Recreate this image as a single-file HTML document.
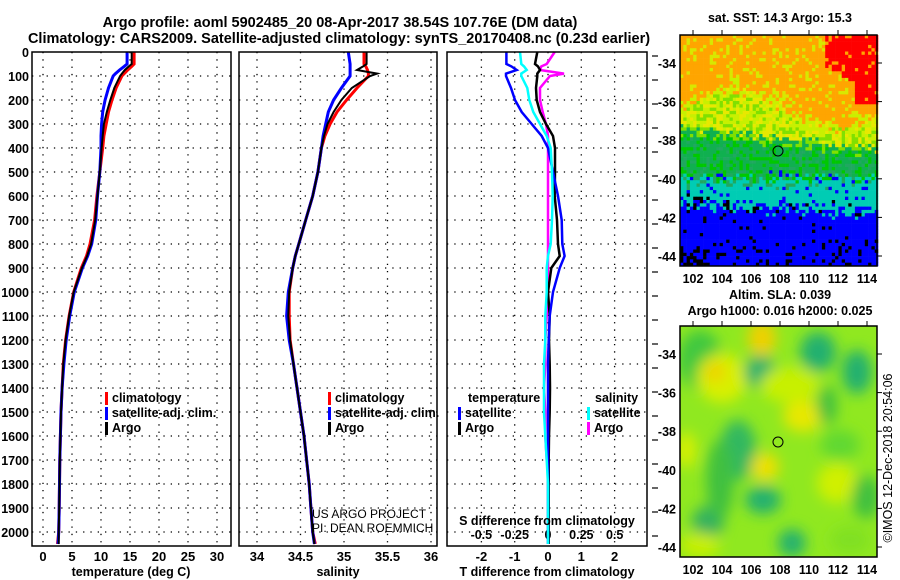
<!DOCTYPE html>
<html><head><meta charset="utf-8"><style>
html,body{margin:0;padding:0;background:#fff;}
svg{display:block;font-family:"Liberation Sans",sans-serif;}
.b{font-weight:bold;}
</style></head><body>
<svg id="fig" width="900" height="580" viewBox="0 0 900 580">
<text class="b" x="340" y="27" font-size="14.5" text-anchor="middle">Argo profile: aoml 5902485_20 08-Apr-2017 38.54S 107.76E (DM data)</text>
<text class="b" x="339" y="43" font-size="14.5" text-anchor="middle">Climatology: CARS2009. Satellite-adjusted climatology: synTS_20170408.nc (0.23d earlier)</text>
<g id="panels"></g>
<g id="maps"></g>
</svg>
<script>
// ---------- data ----------
const depths = [0,50,60,75,90,100,150,200,250,300,350,400,500,600,700,800,850,900,1000,1100,1200,1300,1400,1500,1600,1700,1800,1900,2000,2050];
const tempClim = [15.7,15.7,15.3,14.6,14.0,13.6,12.6,11.9,11.3,10.9,10.5,10.3,9.8,9.3,8.9,8.1,7.5,6.6,5.3,4.5,3.9,3.5,3.3,3.1,3.0,2.9,2.85,2.8,2.7,2.5];
const tempSat = [14.5,14.5,14.0,13.2,12.5,12.1,11.3,10.7,10.3,10.1,10.0,10.0,9.8,9.4,9.1,8.4,7.7,6.8,5.4,4.6,4.0,3.6,3.3,3.1,3.0,2.9,2.85,2.8,2.7,2.6];
const tempArgo = [15.3,15.3,14.8,14.1,13.6,13.3,12.3,11.6,11.0,10.5,10.3,10.1,9.8,9.4,9.0,8.3,7.6,6.7,5.3,4.5,3.9,3.5,3.3,3.1,3.0,2.9,2.85,2.8,2.7,2.7];
const salClim = [35.23,35.23,35.25,35.27,35.28,35.28,35.15,35.03,34.92,34.84,34.78,34.74,34.70,34.64,34.56,34.48,34.44,34.41,34.37,34.37,34.38,34.42,34.46,34.50,34.54,34.57,34.60,34.62,34.64,34.67];
const salSat = [35.05,35.07,35.07,35.07,35.07,35.07,34.97,34.88,34.82,34.79,34.76,34.74,34.70,34.64,34.56,34.48,34.44,34.41,34.36,34.34,34.37,34.42,34.46,34.50,34.54,34.57,34.60,34.62,34.64,34.66];
const salArgo = [35.26,35.26,35.22,35.15,35.38,35.30,35.09,34.97,34.88,34.81,34.77,34.74,34.70,34.64,34.56,34.48,34.44,34.41,34.37,34.36,34.38,34.42,34.46,34.50,34.54,34.57,34.60,34.62,34.64,34.66];
const dTSat = [-1.25,-1.25,-1.1,-0.94,-1.26,-1.26,-1.11,-0.99,-0.79,-0.49,-0.19,0,0.15,0.3,0.41,0.43,0.5,0.35,0.15,0.05,0.02,0,0,0,0,0,0,0,0,0];
const dTArgo = [-0.32,-0.39,-0.3,-0.24,-0.32,-0.32,-0.36,-0.34,-0.24,-0.06,0.15,0.21,0.21,0.2,0.27,0.3,0.35,0.1,0,0.05,0.03,0.05,0.06,0.05,0.03,0.02,0.02,0.02,0.02,0.02];
const dSSat = [-0.21,-0.2,-0.18,-0.16,-0.2,-0.2,-0.155,-0.14,-0.11,-0.06,-0.01,0.02,0.03,0.035,0.03,0.02,0,-0.01,-0.01,-0.02,-0.02,-0.03,-0.03,-0.03,-0.02,-0.01,0,0,0,0];
const dSArgo = [0.05,-0.01,-0.05,-0.06,0.12,0.015,-0.06,-0.06,-0.04,-0.015,0,0,0,0,0,0,0,0,0,-0.01,-0.02,-0.02,-0.03,-0.02,-0.02,-0.01,0,0,0,0];
const depthTicks = [0,100,200,300,400,500,600,700,800,900,1000,1100,1200,1300,1400,1500,1600,1700,1800,1900,2000];
const tempTicks = [0,5,10,15,20,25,30];
const salTicks = [34,34.5,35,35.5,36];
const dTTicks = [-2,-1,0,1,2];
const dSTicks = [-0.5,-0.25,0,0.25,0.5];
const lonTicks = [102,104,106,108,110,112,114];
const latTicks = [-34,-36,-38,-40,-42,-44];

const NS='http://www.w3.org/2000/svg';
const P=document.getElementById('panels');
function mk(tag,attrs,parent){const e=document.createElementNS(NS,tag);for(const k in attrs)e.setAttribute(k,attrs[k]);(parent||P).appendChild(e);return e;}
function txt(x,y,s,size,anchor,bold,parent){const t=mk('text',{x:x,y:y,'font-size':size,'text-anchor':anchor||'middle'},parent);if(bold)t.setAttribute('font-weight','bold');t.textContent=s;return t;}

const yTop=52, yBot=546;
const yD=d=>yTop+0.24*d;
const xT=v=>43+5.8*v;
const xS=v=>257+87*(v-34);
const xDT=v=>548+33.3*v;
const xDS=v=>548+133.3*v;

function panel(x0,x1,name){
  const g=mk('g',{});
  
  
  depthTicks.forEach(d=>{if(d>0){const l=mk('line',{x1:x0,x2:x1,y1:yD(d),y2:yD(d),stroke:'#000','stroke-width':1.3,'stroke-dasharray':'1.3 6'},g);
    }
  });
  return g;
}
function vgrid(g,ticks,fx,lab,ly,size){
  ticks.forEach((t,i)=>{const x=fx(t);
    const l=mk('line',{x1:x,x2:x,y1:yTop,y2:yBot,stroke:'#000','stroke-width':1.3,'stroke-dasharray':'1.3 6'},g);
    
    if(lab){const t2=txt(x,ly,lab[i],size||13,'middle',true,g);}
  });
}
function line(g,xs,fx,color,w,name,n){
  const pts=[];const m=n||xs.length;
  for(let i=0;i<m;i++)pts.push(fx(xs[i]).toFixed(1)+','+yD(depths[i]).toFixed(1));
  const p=mk('polyline',{points:pts.join(' '),fill:'none',stroke:color,'stroke-width':w,'stroke-linejoin':'miter'},g);
  
}
function frame(g,x0,x1){const r=mk('rect',{x:x0,y:yTop,width:x1-x0,height:yBot-yTop,fill:'none',stroke:'#000','stroke-width':1.5},g);
  }
function legend(g,x,y,items){items.forEach((it,i)=>{
  const r=mk('rect',{x:x,y:y+i*15-10,width:3,height:13,fill:it[0]},g);
  
  const t=txt(x+7,y+i*15,it[1],12.5,'start',true,g);
  
});}

// depth labels
depthTicks.forEach(d=>{const t=txt(29,yD(d)+5,String(d),12.5,'end',true);
  });

// panel 1 temperature
const g1=panel(32,231,'temperature-panel');
vgrid(g1,tempTicks,xT,tempTicks.map(String),561);
line(g1,tempClim,xT,'#ff0000',3,'climatology-temperature-line');
line(g1,tempSat,xT,'#0000ff',3,'satellite-temperature-line');
line(g1,tempArgo,xT,'#000',2,'argo-temperature-line');
frame(g1,32,231);
legend(g1,105,402,[['#ff0000','climatology'],['#0000ff','satellite-adj. clim.'],['#000','Argo']]);
let t=txt(131,576,'temperature (deg C)',12.5,'middle',true);

// panel 2 salinity
const g2=panel(239,437,'salinity-panel');
vgrid(g2,salTicks,xS,['34','34.5','35','35.5','36'],561);
line(g2,salClim,xS,'#ff0000',3,'climatology-salinity-line');
line(g2,salSat,xS,'#0000ff',3,'satellite-salinity-line');
line(g2,salArgo,xS,'#000',2,'argo-salinity-line');
frame(g2,239,437);
legend(g2,328,402,[['#ff0000','climatology'],['#0000ff','satellite-adj. clim.'],['#000','Argo']]);
t=txt(312,518,'US ARGO PROJECT',12,'start',false,g2);
t=txt(312,532,'PI: DEAN ROEMMICH',12,'start',false,g2);
t=txt(338,576,'salinity',12.5,'middle',true);

// panel 3 differences
const g3=panel(447,647,'difference-panel');
vgrid(g3,dTTicks,xDT,['-2','-1','0','1','2'],561);
dSTicks.forEach((v,i)=>{const tt=txt(xDS(v),539,['-0.5','-0.25','0','0.25','0.5'][i],12.5,'middle',true,g3);});
depthTicks.forEach(d=>{const l=mk('line',{x1:652,x2:658,y1:yD(d)+4,y2:yD(d)+4,stroke:'#000','stroke-width':1.2},g3);});
line(g3,dSArgo,xDS,'#ff00ff',2.5,'argo-salinity-diff-line',26);
line(g3,dTArgo,xDT,'#000',2.5,'argo-temperature-diff-line');
line(g3,dTSat,xDT,'#0000ff',2.5,'satellite-temperature-diff-line');
line(g3,dSSat,xDS,'#00ffff',2.5,'satellite-salinity-diff-line');
frame(g3,447,647);
t=txt(468,402,'temperature',12.5,'start',true,g3);
legend(g3,458,417,[['#0000ff','satellite'],['#000','Argo']]);
t=txt(595,402,'salinity',12.5,'start',true,g3);
legend(g3,587,417,[['#00ffff','satellite'],['#ff00ff','Argo']]);
t=txt(547,525,'S difference from climatology',12.5,'middle',true,g3);
t=txt(547,576,'T difference from climatology',12.5,'middle',true);

// ---------- maps ----------
const M=document.getElementById('maps');
const mx0=680,mx1=877;
const lonX=l=>693+(l-102)*14.5;
function hash(i,j){let h=(i*374761393+j*668265263)^0x5bd1e995;h=(h^(h>>>13))*1274126177;return ((h^(h>>>16))>>>0)/4294967296;}
function mapFrame(g,y0,y1,latY){
  const r=mk('rect',{x:mx0,y:y0,width:mx1-mx0,height:y1-y0,fill:'none',stroke:'#000','stroke-width':1.5},g);
  
  lonTicks.forEach(l=>{const x=lonX(l);
    mk('line',{x1:x,x2:x,y1:y0-5,y2:y0,stroke:'#000'},g);
    const tt=txt(x,y1+17,String(l),12.5,'middle',true,g);});
  latTicks.forEach(la=>{const y=latY(la);
    mk('line',{x1:mx1,x2:mx1+5,y1:y,y2:y,stroke:'#000'},g);
    const tt=txt(676,y+5,String(la),12.5,'end',true,g);});
}
// SST map
const gm1=mk('g',{},M);


const cs=3.3, y0a=35, y1a=266;
const nc=Math.ceil((mx1-mx0)/cs), nr=Math.ceil((y1a-y0a)/cs);
for(let j=0;j<nr;j++){for(let i=0;i<nc;i++){
  const fx=i/nc, fy=j/nr, n=hash(i,j);
  let col;
  let s=fy+(n-0.5)*0.08;
  const redEdge = (fx>0.73 && fy<0.13+ (fx-0.73)*0.5) || (fx>0.88 && fy<0.3);
  if(redEdge && n>0.08) col='#ff0000';
  else if(s<0.30-0.08*Math.sin(fx*6)) col=(n>0.82?'#d8e800':'#ffa500');
  else if(s<0.40+0.1*fx) col=(n>0.6?'#c8f000':(n>0.3?'#e8e800':'#80e000'));
  else if(s<0.62) col=(n>0.5?'#10b050':(n>0.2?'#00c800':'#20a860'));
  else if(s<0.76-0.04*(1-fx)) col=(n>0.9?'#0000ff':'#00ccb4');
  else col=(n>0.93?'#000':(n>0.85&&fy>0.88?'#000':'#0000ff'));
  if(fy>0.92 && fx<0.12 && n>0.5) col='#000';
  mk('rect',{x:(mx0+i*cs).toFixed(1),y:(y0a+j*cs).toFixed(1),width:cs+0.3,height:cs+0.3,fill:col},gm1);
}}
mapFrame(gm1,y0a,y1a,la=>63+(-34-la)*19.3);
let c=mk('circle',{cx:778,cy:151,r:5,fill:'none',stroke:'#000','stroke-width':1},gm1);
t=txt(780,22,'sat. SST: 14.3 Argo: 15.3',12.5,'middle',true,M);

// SLA map
const gm2=mk('g',{},M);


const y0b=326,y1b=557;
const defs=mk('defs',{},gm2);
const f=mk('filter',{id:'bl',x:'-50%',y:'-50%',width:'200%',height:'200%'},defs);
mk('feGaussianBlur',{stdDeviation:7},f);
const cp=mk('clipPath',{id:'cp2'},defs);mk('rect',{x:mx0,y:y0b,width:mx1-mx0,height:y1b-y0b},cp);
const gb=mk('g',{'clip-path':'url(#cp2)'},gm2);
mk('rect',{x:mx0,y:y0b,width:mx1-mx0,height:y1b-y0b,fill:'#90e820'},gb);
const gbl=mk('g',{filter:'url(#bl)'},gb);
const blobs=[[700,360,22,30,'#40c840'],[722,378,25,25,'#d8f000'],[715,372,10,10,'#f0d000'],[762,338,14,18,'#f0d000'],[760,372,16,16,'#20b070'],
[818,352,18,20,'#20b070'],[857,372,15,22,'#20b070'],[803,416,20,16,'#e8e800'],[827,405,10,20,'#40c040'],[738,450,18,30,'#30b860'],
[765,467,14,14,'#f0e000'],[763,500,18,14,'#20b070'],[708,522,16,16,'#30b060'],[792,543,14,14,'#20b070'],[837,483,20,20,'#d0f000'],
[866,497,14,22,'#40c040'],[686,450,10,18,'#d8f000'],[720,480,14,40,'#40c040'],[840,445,20,15,'#60d830'],[700,545,20,12,'#c8f000'],[850,540,20,14,'#80e020'],[790,385,30,18,'#c8f000']];
blobs.forEach(b=>mk('ellipse',{cx:b[0],cy:b[1],rx:b[2],ry:b[3],fill:b[4]},gbl));
mapFrame(gm2,y0b,y1b,la=>354+(-34-la)*19.3);
c=mk('circle',{cx:778,cy:442,r:5,fill:'none',stroke:'#000','stroke-width':1},gm2);
t=txt(780,299,'Altim. SLA: 0.039',12.5,'middle',true,M);
t=txt(780,315,'Argo h1000: 0.016 h2000: 0.025',12.5,'middle',true,M);
t=txt(0,0,'©IMOS 12-Dec-2018 20:54:06',12.5,'middle',false,M);t.setAttribute('transform','translate(892,458) rotate(-90)');

</script>
</body></html>
